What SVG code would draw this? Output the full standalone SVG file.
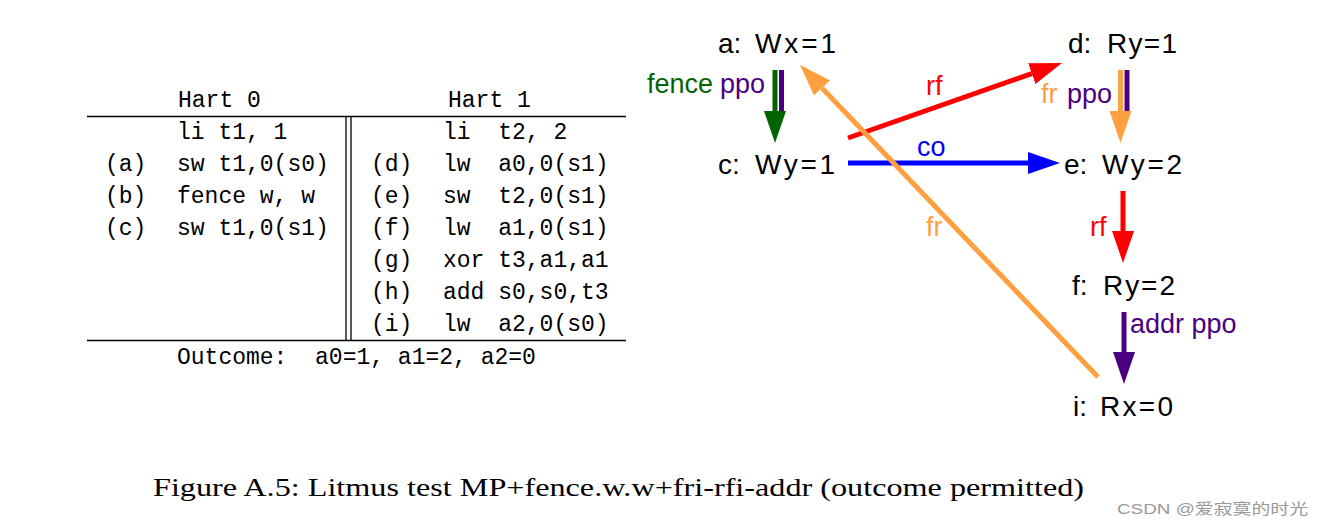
<svg xmlns="http://www.w3.org/2000/svg" width="1323" height="528" viewBox="0 0 1323 528" xml:space="preserve">
<style>
.mono{font-family:"Liberation Mono","DejaVu Sans Mono",monospace;font-size:23px;fill:#000;white-space:pre}
.node{font-family:"Liberation Sans","DejaVu Sans",sans-serif;font-size:28px;fill:#000}
.lbl{font-family:"Liberation Sans","DejaVu Sans",sans-serif;font-size:27px}
.rule{stroke:#000;stroke-width:1.3}
.e{fill:none;stroke-width:5}
.green{fill:#006400}.purple{fill:#4B0082}.red{fill:#FF0000}.blue{fill:#0000FF}.orange{fill:#FFA040}
</style>
<defs>
<marker id="hGreen" markerUnits="userSpaceOnUse" markerWidth="32" markerHeight="22" refX="0" refY="11" orient="auto"><path d="M0,0 L32,11 L0,22 z" fill="#006400"/></marker>
<marker id="hOrange" markerUnits="userSpaceOnUse" markerWidth="32" markerHeight="22" refX="0" refY="11" orient="auto"><path d="M0,0 L32,11 L0,22 z" fill="#FFA040"/></marker>
<marker id="hRed" markerUnits="userSpaceOnUse" markerWidth="32" markerHeight="22" refX="0" refY="11" orient="auto"><path d="M0,0 L32,11 L0,22 z" fill="#FF0000"/></marker>
<marker id="hBlue" markerUnits="userSpaceOnUse" markerWidth="32" markerHeight="22" refX="0" refY="11" orient="auto"><path d="M0,0 L32,11 L0,22 z" fill="#0000FF"/></marker>
<marker id="hPurple" markerUnits="userSpaceOnUse" markerWidth="32" markerHeight="22" refX="0" refY="11" orient="auto"><path d="M0,0 L32,11 L0,22 z" fill="#4B0082"/></marker>
</defs>
<rect width="1323" height="528" fill="#fff"/>
<g id="table">
<text class="mono" x="178" y="107">Hart 0</text>
<text class="mono" x="448" y="107">Hart 1</text>
<text class="mono" x="177" y="139">li t1, 1</text>
<text class="mono" x="105" y="171">(a)</text><text class="mono" x="177" y="171">sw t1,0(s0)</text>
<text class="mono" x="105" y="203">(b)</text><text class="mono" x="177" y="203">fence w, w</text>
<text class="mono" x="105" y="235">(c)</text><text class="mono" x="177" y="235">sw t1,0(s1)</text>
<text class="mono" x="443" y="139">li  t2, 2</text>
<text class="mono" x="371" y="171">(d)</text><text class="mono" x="443" y="171">lw  a0,0(s1)</text>
<text class="mono" x="371" y="203">(e)</text><text class="mono" x="443" y="203">sw  t2,0(s1)</text>
<text class="mono" x="371" y="235">(f)</text><text class="mono" x="443" y="235">lw  a1,0(s1)</text>
<text class="mono" x="371" y="267">(g)</text><text class="mono" x="443" y="267">xor t3,a1,a1</text>
<text class="mono" x="371" y="299">(h)</text><text class="mono" x="443" y="299">add s0,s0,t3</text>
<text class="mono" x="371" y="331">(i)</text><text class="mono" x="443" y="331">lw  a2,0(s0)</text>
<text class="mono" x="177" y="364">Outcome:  a0=1, a1=2, a2=0</text>
<line class="rule" x1="87" y1="116.5" x2="626" y2="116.5"/>
<line class="rule" x1="87" y1="340.5" x2="626" y2="340.5"/>
<line class="rule" x1="346" y1="116.5" x2="346" y2="340.5"/>
<line class="rule" x1="351" y1="116.5" x2="351" y2="340.5"/>
</g>
<g id="connectors">
<line class="e" stroke="#4B0082" x1="781.5" y1="70" x2="781.5" y2="112"/>
<line class="e" stroke="#006400" stroke-width="5.5" x1="775" y1="70" x2="775" y2="111" marker-end="url(#hGreen)"/>
<line class="e" stroke="#4B0082" x1="1127" y1="70" x2="1127" y2="112"/>
<line class="e" stroke="#FFA040" x1="1120.5" y1="70" x2="1120.5" y2="111" marker-end="url(#hOrange)"/>
<line class="e" stroke="#0000FF" x1="848" y1="163" x2="1028" y2="163" marker-end="url(#hBlue)"/>
<line class="e" stroke="#FF0000" x1="848" y1="138" x2="1031.8" y2="73.6" marker-end="url(#hRed)"/>
<line class="e" stroke="#FF0000" x1="1123" y1="191" x2="1123" y2="231" marker-end="url(#hRed)"/>
<line class="e" stroke="#4B0082" x1="1124" y1="312" x2="1124" y2="352" marker-end="url(#hPurple)"/>
<line class="e" stroke="#FFA040" stroke-width="4.5" x1="1098" y1="377" x2="822" y2="88" marker-end="url(#hOrange)"/>
<text class="lbl green" x="647" y="93">fence</text>
<text class="lbl purple" x="720" y="93">ppo</text>
<text class="lbl orange" x="1041" y="103">fr</text>
<text class="lbl purple" x="1067" y="103">ppo</text>
<text class="lbl red" x="926" y="95">rf</text>
<text class="lbl blue" x="917" y="156">co</text>
<text class="lbl orange" x="926" y="236">fr</text>
<text class="lbl red" x="1090" y="236">rf</text>
<text class="lbl purple" x="1130" y="333">addr ppo</text>
</g>
<g id="node-a"><text class="node" x="718" y="53">a:</text><text class="node" x="755" y="53" textLength="81" lengthAdjust="spacing">Wx=1</text></g>
<g id="node-c"><text class="node" x="718" y="174">c:</text><text class="node" x="755" y="174" textLength="80" lengthAdjust="spacing">Wy=1</text></g>
<g id="node-d"><text class="node" x="1068" y="53">d:</text><text class="node" x="1107" y="53" textLength="70" lengthAdjust="spacing">Ry=1</text></g>
<g id="node-e"><text class="node" x="1064" y="174">e:</text><text class="node" x="1102" y="174" textLength="80" lengthAdjust="spacing">Wy=2</text></g>
<g id="node-f"><text class="node" x="1072" y="295">f:</text><text class="node" x="1103" y="295" textLength="72" lengthAdjust="spacing">Ry=2</text></g>
<g id="node-i"><text class="node" x="1073" y="416">i:</text><text class="node" x="1100" y="416" textLength="73" lengthAdjust="spacing">Rx=0</text></g>
<text x="153" y="496" font-family="'Liberation Serif','DejaVu Serif',serif" font-size="26" textLength="931" lengthAdjust="spacingAndGlyphs">Figure A.5: Litmus test MP+fence.w.w+fri-rfi-addr (outcome permitted)</text>
<text x="1117" y="514" font-family="'Liberation Sans','Noto Sans CJK SC',sans-serif" font-size="15" fill="#999999" textLength="191" lengthAdjust="spacingAndGlyphs">CSDN @爱寂寞的时光</text>
</svg>
